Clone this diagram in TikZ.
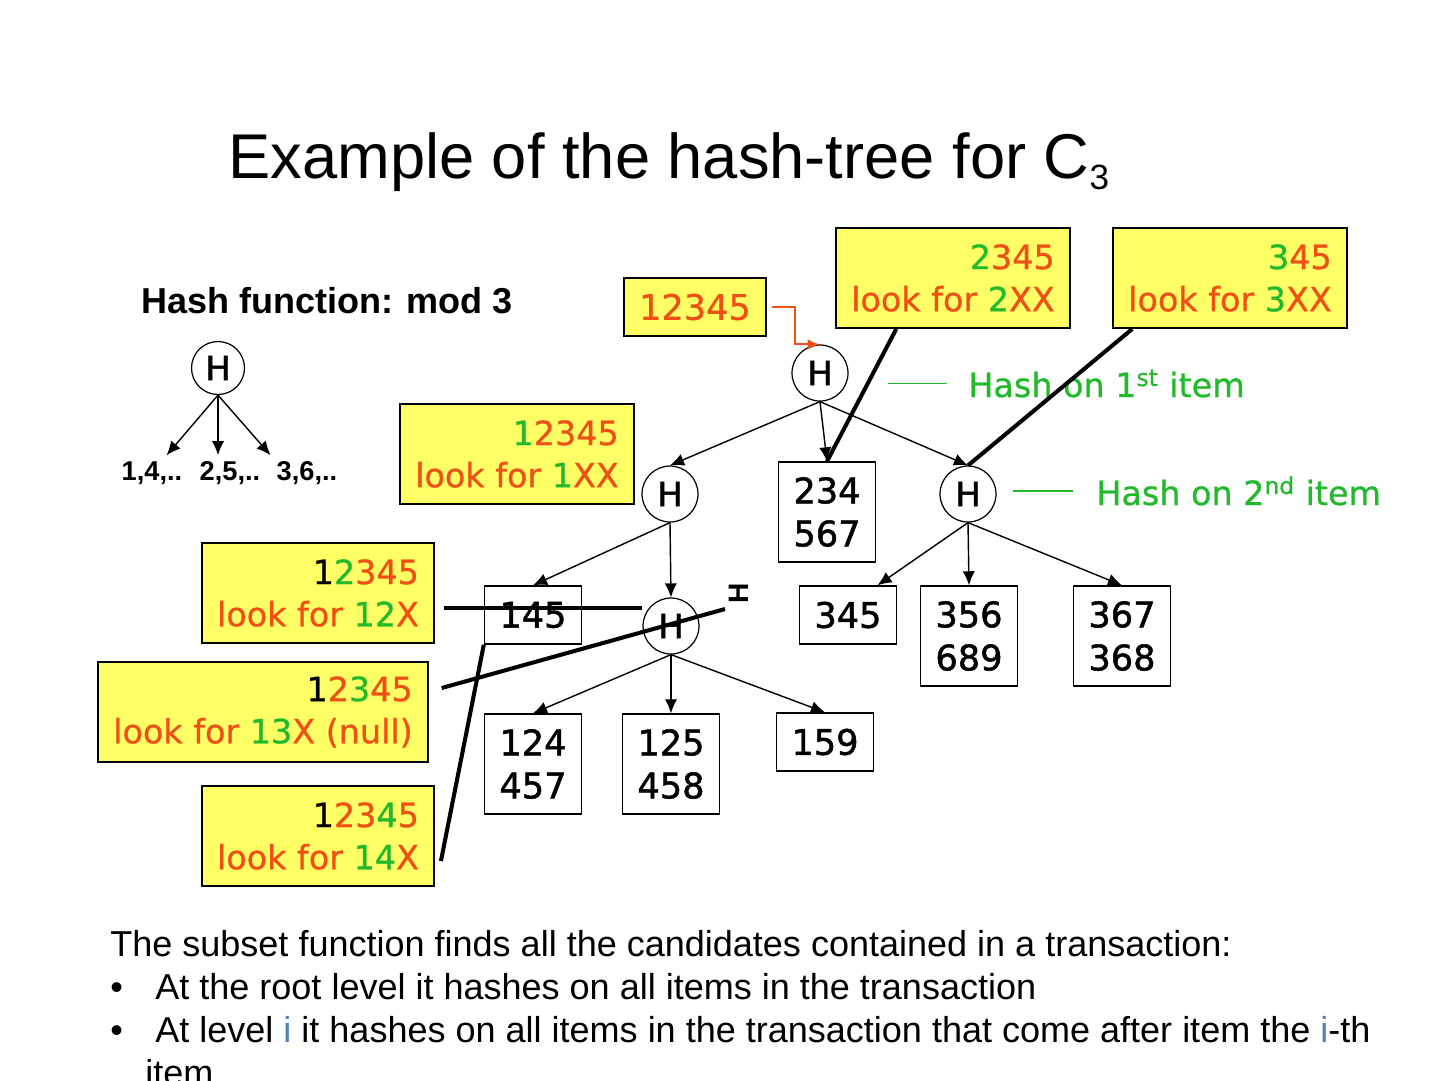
\documentclass[tikz,border=0pt]{standalone}
\usepackage{fontspec}
\setmainfont{Liberation Sans}
\newfontfamily\vfont{DejaVu Sans}[FakeBold=0.8]
\newfontfamily\vmed{DejaVu Sans}[FakeBold=1.4]
\usepackage{xcolor}
\usetikzlibrary{arrows.meta,positioning,calc}
\definecolor{boxyellow}{RGB}{255,255,102}
\definecolor{hred}{RGB}{240,80,22}
\definecolor{hgreen}{RGB}{34,185,44}
\definecolor{iblue}{RGB}{79,129,189}
\newcommand{\grn}[1]{\textcolor{hgreen}{#1}}
\newcommand{\blk}[1]{\textcolor{black}{#1}}

\begin{document}
\begin{tikzpicture}[
    x=0.02cm, y=-0.02cm,
    look/.style={draw, line width=1.1pt, fill=boxyellow, align=right, inner xsep=0.3cm, inner ysep=0pt, minimum height=2cm, text=hred, font=\vfont\fontsize{19}{24}\selectfont},
    leaf/.style={draw, line width=0.8pt, align=center, minimum width=1.94cm, minimum height=2cm, inner sep=0pt, font=\vmed\fontsize{20}{24.5}\selectfont},
    hnode/.style={draw, circle, line width=0.7pt, minimum size=1.12cm, inner sep=0pt, font=\vmed\fontsize{19}{19}\selectfont},
    arr/.style={-{Latex[length=8pt,width=7pt]}, line width=0.8pt},
    redarrow/.style={draw=hred, line width=1.1pt, -{Latex[length=7pt,width=6pt]}},
    thickline/.style={line width=2.3pt},
    hashline/.style={draw=hgreen, line width=0.9pt},
    note/.style={inner sep=0pt, anchor=base west, font=\fontsize{20.5}{20.5}\selectfont},
    small/.style={font=\bfseries\fontsize{15.5}{15.5}\selectfont}
]
    \useasboundingbox (0,0) rectangle (1440,1080);

    % title
    \node[note, font=\fontsize{36}{36}\selectfont] (title) at (228,178) {Example of the hash-tree for C\raisebox{-6.8pt}{\fontsize{20}{20}\selectfont 3}};

    % hash function
    \node[note, font=\bfseries\fontsize{20.5}{20.5}\selectfont] (hfun) at (141,313) {Hash function: mod 3};
    \node[hnode, minimum size=1.06cm] (hs) at (218,368) {H};
    \node[small] (s1) at (152,473) {1,4,..};
    \node[small] (s2) at (230,473) {2,5,..};
    \node[small] (s3) at (307,473) {3,6,..};
    \draw[arr] (hs.south) -- ($(s1.north)!0.4!(s1.north east)$);
    \draw[arr] (hs.south) -- (hs.south |- s2.north);
    \draw[arr] (hs.south) -- (s3.north west);

    % hash tree
    \node[hnode] (root) at (820,373) {H};
    \node[hnode] (hA) at (670,494) {H};
    \node[hnode] (hC) at (968,494) {H};
    \node[hnode] (hD) at (671,626) {H};
    \node[leaf] (l234) at (827,512) {234\\567};
    \node[leaf, minimum height=1.16cm] (l145) at (533,615) {145};
    \node[leaf, minimum height=1.16cm] (l345) at (848,615) {345};
    \node[leaf] (l356) at (969,636) {356\\689};
    \node[leaf] (l367) at (1122,636) {367\\368};
    \node[leaf] (l124) at (533,764) {124\\457};
    \node[leaf] (l125) at (671,764) {125\\458};
    \node[leaf, minimum height=1.16cm] (l159) at (825,742) {159};
    \node[rotate=90, font=\bfseries\fontsize{16}{16}\selectfont, inner sep=0pt] (stray) at (739,593) {H};

    \draw[arr] (root.south) -- (hA.north);
    \draw[arr] (root.south) -- (l234.north);
    \draw[arr] (root.south) -- (hC.north);
    \draw[arr] (hA.south) -- (l145.north);
    \draw[arr] (hA.south) -- (hD.north);
    \draw[arr] (hC.south) -- ($(l345.north)!0.6!(l345.north east)$);
    \draw[arr] (hC.south) -- (l356.north);
    \draw[arr] (hC.south) -- (l367.north);
    \draw[arr] (hD.south) -- (l124.north);
    \draw[arr] (hD.south) -- (l125.north);
    \draw[arr] (hD.south) -- (l159.north);

    % hash on labels
    \node[note, font=\vfont\fontsize{19}{19}\selectfont, text=hgreen] (on1) at (968,397) {Hash on 1\textsuperscript{st} item};
    \node[note, font=\vfont\fontsize{19}{19}\selectfont, text=hgreen] (on2) at (1096,505) {Hash on 2\textsuperscript{nd} item};
    \draw[hashline] ([xshift=-0.42cm]on1.west) -- ++(-59,0);
    \draw[hashline] ([xshift=-0.46cm]on2.west) -- ++(-60,0);

    % transaction boxes
    \node[look, minimum height=1.16cm, font=\vfont\fontsize{20}{24}\selectfont] (t0) at (695,307) {12345};
    \node[look] (t2) at (953,278) {\grn{2}345\\look for \grn{2}XX};
    \node[look] (t3) at (1230,278) {\grn{3}45\\look for \grn{3}XX};
    \node[look] (b1) at (517,454) {\grn{1}2345\\look for \grn{1}XX};
    \node[look] (b12) at (318,593) {\blk{1}\grn{2}345\\look for \grn{12}X};
    \node[look] (b13) at (263,712) {\blk{1}2\grn{3}45\\look for \grn{13}X (null)};
    \node[look] (b14) at (318,836) {\blk{1}23\grn{4}5\\look for \grn{14}X};

    \draw[redarrow] ([xshift=0.1cm]t0.east) -| ($(root.north)+(-25,0)$) -- (root.north);
    \draw[thickline] ($(t2.south west)+(61,0)$) -- (l234.north);
    \draw[thickline] ($(t3.south west)+(20,0)$) -- (hC.north);
    \coordinate (p12) at ($(b12.east)+(9,15)$);
    \draw[thickline] (p12) -- (p12 -| hD.west);
    \coordinate (e13) at (725,609);
    \draw[thickline] ($(b13.east)+(13,-24)$) -- (e13);
    \draw[thickline] ($(b14.east)+(6,25)$) -- (l145.south west);

    % subset function text
    \node[note] (intro) at (110,956) {The subset function finds all the candidates contained in a transaction:};
    \node[note] (dot1) at (110,999) {\textbullet};
    \node[note] (pt1) at (155,999) {At the root level it hashes on all items in the transaction};
    \node[note] (dot2) at (110,1042) {\textbullet};
    \node[note] (pt2) at (155,1042) {At level \textcolor{iblue}{i} it hashes on all items in the transaction that come after item the \textcolor{iblue}{i}-th};
    \node[note] (pt2b) at (145,1085) {item};
\end{tikzpicture}
\end{document}
